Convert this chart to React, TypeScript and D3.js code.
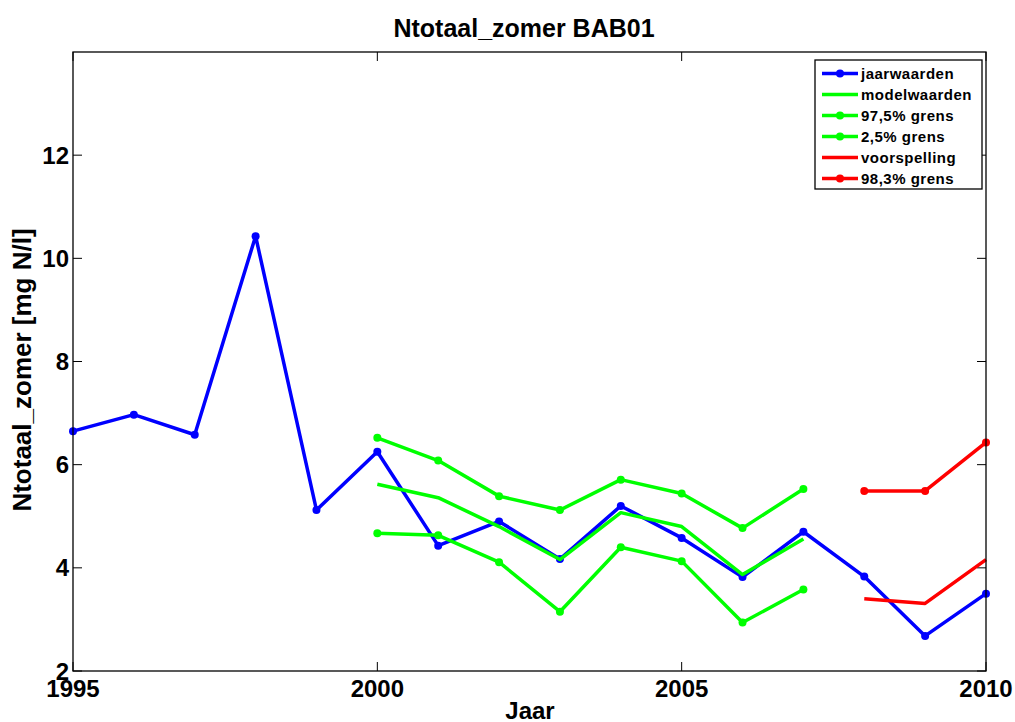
import React from 'react';
import * as d3 from 'd3';

const years = [1995, 1996, 1997, 1998, 1999, 2000, 2001, 2002, 2003, 2004, 2005, 2006, 2007, 2008, 2009, 2010];
const jaarwaarden = [6.65, 6.97, 6.58, 10.43, 5.12, 6.25, 4.43, 4.9, 4.17, 5.2, 4.58, 3.82, 4.7, 3.83, 2.68, 3.5];

const modelYears = [2000, 2001, 2002, 2003, 2004, 2005, 2006, 2007];
const modelwaarden = [5.62, 5.36, 4.8, 4.16, 5.07, 4.8, 3.87, 4.56];
const grens975 = [6.52, 6.08, 5.39, 5.12, 5.71, 5.44, 4.77, 5.53];
const grens25 = [4.67, 4.63, 4.11, 3.15, 4.4, 4.13, 2.94, 3.58];

const forecastYears = [2008, 2009, 2010];
const voorspelling = [3.4, 3.31, 4.16];
const grens983 = [5.49, 5.49, 6.43];

const xTicks = [1995, 2000, 2005, 2010];
const yTicks = [2, 4, 6, 8, 10, 12];

const W = 1015;
const H = 722;
const margin = { top: 52, right: 29, bottom: 51, left: 73 };
const FONT = "'Liberation Sans', Arial, sans-serif";

type Pt = { x: number; y: number };
type Series = { name: string; color: string; markers: boolean; data: Pt[] };

const zip = (xs: number[], ys: number[]): Pt[] => xs.map((x, i) => ({ x, y: ys[i] }));

const series: Series[] = [
  { name: 'jaarwaarden', color: '#0000ff', markers: true, data: zip(years, jaarwaarden) },
  { name: 'modelwaarden', color: '#00ff00', markers: false, data: zip(modelYears, modelwaarden) },
  { name: '97,5% grens', color: '#00ff00', markers: true, data: zip(modelYears, grens975) },
  { name: '2,5% grens', color: '#00ff00', markers: true, data: zip(modelYears, grens25) },
  { name: 'voorspelling', color: '#ff0000', markers: false, data: zip(forecastYears, voorspelling) },
  { name: '98,3% grens', color: '#ff0000', markers: true, data: zip(forecastYears, grens983) },
];

// draw order: blue first, then green, then red on top
const drawOrder = [0, 2, 3, 1, 4, 5];

function App() {
  const x = d3.scaleLinear().domain([1995, 2010]).range([margin.left, W - margin.right]);
  const y = d3.scaleLinear().domain([2, 14]).range([H - margin.bottom, margin.top]);
  const line = d3
    .line<Pt>()
    .x((d) => x(d.x))
    .y((d) => y(d.y));

  const left = margin.left;
  const right = W - margin.right;
  const top = margin.top;
  const bottom = H - margin.bottom;
  const tick = 9;

  const legend = { x: 815, y: 60, w: 167, h: 129, row: 21 };

  return (
    <svg width={W} height={H} style={{ position: 'absolute', left: 0, top: 0, background: '#fff' }}>
      <rect x={0} y={0} width={W} height={H} fill="#fff" />
      <text x={524} y={37} textAnchor="middle" fontFamily={FONT} fontWeight="bold" fontSize={25}>
        Ntotaal_zomer BAB01
      </text>

      {/* ticks */}
      {xTicks.map((t) => (
        <g key={'xt' + t}>
          <line x1={x(t)} x2={x(t)} y1={bottom} y2={bottom - tick} stroke="#000" />
          <line x1={x(t)} x2={x(t)} y1={top} y2={top + tick} stroke="#000" />
          <text x={x(t)} y={697} textAnchor="middle" fontFamily={FONT} fontWeight="bold" fontSize={24}>
            {t}
          </text>
        </g>
      ))}
      {yTicks.map((t) => (
        <g key={'yt' + t}>
          <line x1={left} x2={left + tick} y1={y(t)} y2={y(t)} stroke="#000" />
          <line x1={right} x2={right - tick} y1={y(t)} y2={y(t)} stroke="#000" />
          <text x={69} y={y(t) + 8.5} textAnchor="end" fontFamily={FONT} fontWeight="bold" fontSize={24}>
            {t}
          </text>
        </g>
      ))}

      {drawOrder.map((i) => {
        const s = series[i];
        return (
          <g key={s.name}>
            <path d={line(s.data) || ''} fill="none" stroke={s.color} strokeWidth={3.5} strokeLinejoin="round" />
            {s.markers &&
              s.data.map((d, j) => <circle key={j} cx={x(d.x)} cy={y(d.y)} r={4} fill={s.color} />)}
          </g>
        );
      })}

      <rect x={left} y={top} width={right - left} height={bottom - top} fill="none" stroke="#000" strokeWidth={1.3} />

      <text x={530} y={719} textAnchor="middle" fontFamily={FONT} fontWeight="bold" fontSize={24}>
        Jaar
      </text>
      <text
        transform={`translate(31,370) rotate(-90)`}
        textAnchor="middle"
        fontFamily={FONT}
        fontWeight="bold"
        fontSize={26}
      >
        Ntotaal_zomer [mg N/l]
      </text>

      {/* legend */}
      <g>
        <rect x={legend.x} y={legend.y} width={legend.w} height={legend.h} fill="#fff" stroke="#000" strokeWidth={1.3} />
        {series.map((s, i) => {
          const cy = legend.y + 13.5 + i * legend.row;
          return (
            <g key={'lg' + s.name}>
              <line x1={822} x2={858} y1={cy} y2={cy} stroke={s.color} strokeWidth={3.5} />
              {s.markers && <circle cx={840} cy={cy} r={4} fill={s.color} />}
              <text x={861} y={cy + 5.5} fontFamily={FONT} fontWeight="bold" fontSize={15} letterSpacing={0.5}>
                {s.name}
              </text>
            </g>
          );
        })}
      </g>
    </svg>
  );
}

export default App;
